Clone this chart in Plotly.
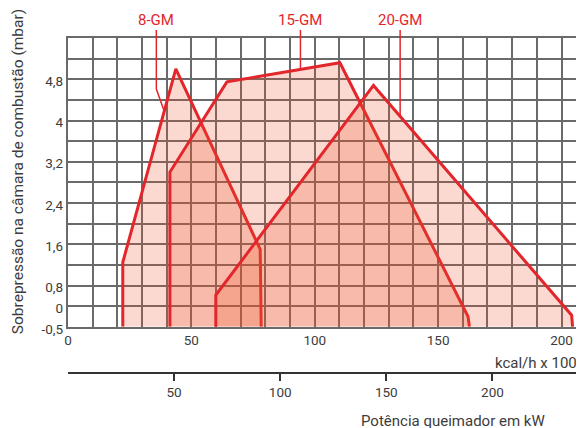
import numpy as np
import plotly.graph_objects as go

# ---------------- data ----------------
# x: kcal/h x 1000, y: overpressure in combustion chamber (mbar)
models = ["8-GM", "15-GM", "20-GM"]
x_8gm = [22.2, 22.2, 43.7, 77.9, 78.3]
y_8gm = [-0.5, 1.25, 5.0, 1.5, -0.5]
x_15gm = [41.3, 41.3, 64.4, 110.2, 162.1, 162.7]
y_15gm = [-0.5, 3.0, 4.75, 5.12, -0.25, -0.5]
x_20gm = [59.9, 59.9, 123.8, 204.1, 204.5]
y_20gm = [-0.5, 0.43, 4.68, -0.22, -0.5]

# leader-line anchor points on each envelope (x in kcal/h x 1000)
leader_x = [39.0, 94.2, 134.6]
label_x = [35.8, 94.2, 134.6]  # label centres (kcal/h x 1000)

x_ticks_kcal = [0, 50, 100, 150, 200]
x_ticks_kw = [50, 100, 150, 200]
y_tick_mbar = [-0.5, 0, 0.8, 1.6, 2.4, 3.2, 4.0, 4.8]
y_tick_labels = ["-0,5", "0", "0,8", "1,6", "2,4", "3,2", "4", "4,8"]

KCAL_PER_KW = 0.86

# ---------------- axis scale (the chart's y scale is compressed below 0.8) ----------------
Y_BREAK_MBAR = [-0.5, 0.0, 0.8, 5.6]
Y_BREAK_AXIS = [0.0, 0.4, 0.8, 5.6]


def y_axis(v):
    return np.interp(np.asarray(v, dtype=float), Y_BREAK_MBAR, Y_BREAK_AXIS)


# page is shown with the browser's default 8px body margin, so the
# figure origin sits at (8, 8) in the photographed window
ML, MT, MB = 60, 30, 63
W, H = 584, 428
PLOT_W = W - ML
PLOT_H = H - MT - MB
PX_PER_UNIT = 2.477
X_RANGE = [0, PLOT_W / PX_PER_UNIT]
Y_RANGE = [0, 5.6]
Y_DOMAIN = [0.138, 1.0]

RED = "#e3262b"
FILL = "rgba(238,80,40,0.22)"
GRID = "#6a6a6a"
TXT = "#3c3c3c"
FONT = "Roboto"


def scr_x(X):
    """window pixel x -> paper x"""
    return (X - 8 - ML) / PLOT_W


def scr_y(Y):
    """window pixel y -> paper y"""
    return (H - MB - (Y - 8)) / PLOT_H


fig = go.Figure()

series = [(x_8gm, y_8gm), (x_15gm, y_15gm), (x_20gm, y_20gm)]
for name, (xs, ys) in zip(models, series):
    fig.add_trace(go.Scatter(
        x=xs, y=y_axis(ys), mode="lines", name=name,
        fill="toself", fillcolor=FILL,
        line=dict(color=RED, width=3),
        showlegend=False, hoverinfo="skip",
    ))

# invisible trace to bind the kW axis
fig.add_trace(go.Scatter(
    x=x_ticks_kw, y=[None] * len(x_ticks_kw), xaxis="x2", yaxis="y",
    mode="markers", marker=dict(opacity=0), showlegend=False, hoverinfo="skip",
))

fig.update_layout(
    width=W, height=H,
    margin=dict(l=ML, r=0, t=MT, b=MB),
    plot_bgcolor="white", paper_bgcolor="white",
    font=dict(family=FONT, size=13, color=TXT),
    xaxis=dict(
        range=X_RANGE, tickvals=x_ticks_kcal, showgrid=True,
        gridcolor=GRID, gridwidth=2.4,
        minor=dict(dtick=10, tick0=0, showgrid=True, gridcolor=GRID, gridwidth=2.4),
        zeroline=False, showline=True, mirror=True, linecolor=GRID, linewidth=2.4,
        ticks="", tickfont=dict(size=13.5, color=TXT),
    ),
    yaxis=dict(
        domain=Y_DOMAIN, range=Y_RANGE,
        tickvals=list(y_axis(y_tick_mbar)), ticktext=y_tick_labels,
        showgrid=True, gridcolor=GRID, gridwidth=2.4,
        minor=dict(dtick=0.4, tick0=0, showgrid=True, gridcolor=GRID, gridwidth=2.4),
        zeroline=False, showline=True, mirror=True, linecolor=GRID, linewidth=2.4,
        ticks="", ticklabelshift=2, tickfont=dict(size=13.5, color=TXT),
    ),
    xaxis2=dict(
        overlaying="x", anchor="free", position=0, side="bottom",
        range=[X_RANGE[0] / KCAL_PER_KW, X_RANGE[1] / KCAL_PER_KW],
        tickvals=x_ticks_kw, showgrid=False, zeroline=False,
        showline=True, linecolor="#333333", linewidth=1.5,
        ticks="outside", ticklen=7, tickwidth=1.5, tickcolor="#333333",
        tickfont=dict(size=13.5, color=TXT),
    ),
)


def paper_x(x):
    return (x - X_RANGE[0]) / (X_RANGE[1] - X_RANGE[0])


def paper_y(v_axis):
    return Y_DOMAIN[0] + (v_axis - Y_RANGE[0]) / (Y_RANGE[1] - Y_RANGE[0]) * (Y_DOMAIN[1] - Y_DOMAIN[0])


LABEL_Y = scr_y(20)
LEADER_TOP = scr_y(30)
BEND_Y = scr_y(89)

for i, (name, (xs, ys)) in enumerate(zip(models, series)):
    xs_a = np.array(xs, dtype=float)
    ys_a = y_axis(ys)
    lx = leader_x[i]
    best = None
    for j in range(len(xs_a) - 1):
        x0, x1 = xs_a[j], xs_a[j + 1]
        if x0 != x1 and min(x0, x1) <= lx <= max(x0, x1):
            yy = ys_a[j] + (lx - x0) / (x1 - x0) * (ys_a[j + 1] - ys_a[j])
            if best is None or yy > best:
                best = yy
    end_px = paper_x(lx)
    end_py = paper_y(best)
    lab_px = paper_x(label_x[i])
    if i == 0:
        path = f"M {lab_px} {LEADER_TOP} L {lab_px} {BEND_Y} L {end_px} {end_py}"
    else:
        path = f"M {lab_px} {LEADER_TOP} L {lab_px} {end_py}"
    fig.add_shape(type="path", path=path, xref="paper", yref="paper",
                  line=dict(color=RED, width=1.5), layer="above")
    fig.add_annotation(text=name, x=lab_px, y=LABEL_Y, xref="paper", yref="paper",
                       xanchor="center", yanchor="middle", showarrow=False,
                       font=dict(family=FONT, size=15, color=RED))

fig.add_annotation(text="kcal/h x 1000", x=scr_x(495), y=scr_y(363), xref="paper", yref="paper",
                   xanchor="left", yanchor="middle", showarrow=False,
                   font=dict(family=FONT, size=15, color=TXT))
fig.add_annotation(text="Potência queimador em kW", x=scr_x(454), y=scr_y(421),
                   xref="paper", yref="paper", xanchor="center", yanchor="middle",
                   showarrow=False, font=dict(family=FONT, size=15, color=TXT))
fig.add_annotation(text="Sobrepressão na câmara de combustão (mbar)", x=scr_x(18),
                   y=scr_y(172), xref="paper", yref="paper", textangle=-90,
                   xanchor="center", yanchor="middle", showarrow=False,
                   font=dict(family=FONT, size=15.5, color=TXT))

fig.write_html("out.html")
